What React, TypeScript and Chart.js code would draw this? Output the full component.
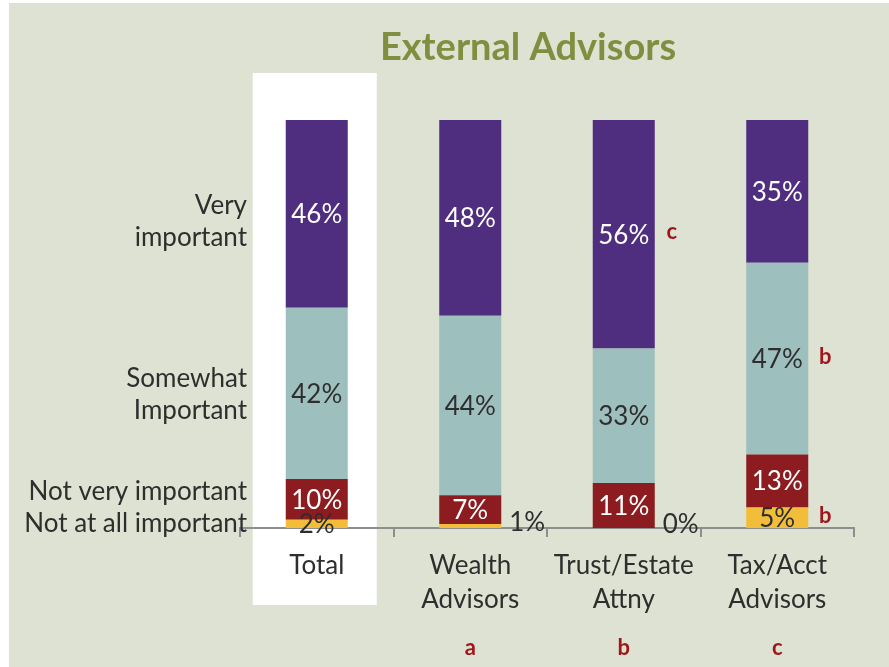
import React, { useEffect, useRef } from 'react';
import { Chart, registerables } from 'chart.js';

Chart.register(...registerables);

// ---------- data ----------
const categories: string[][] = [['Total'], ['Wealth', 'Advisors'], ['Trust/Estate', 'Attny'], ['Tax/Acct', 'Advisors']];
const notAtAllImportant = [2, 1, 0, 5];
const notVeryImportant = [10, 7, 11, 13];
const somewhatImportant = [42, 44, 33, 47];
const veryImportant = [46, 48, 56, 35];
const sigNotAtAll = ['', '', '', 'b'];
const sigNotVery = ['', '', '', ''];
const sigSomewhat = ['', '', '', 'b'];
const sigVery = ['', '', 'c', ''];
const groupLetters = ['', 'a', 'b', 'c'];
const rowLabels: string[][] = [['Very', 'important'], ['Somewhat', 'Important'], ['Not very important'], ['Not at all important']];
const rowLabelValues = [75.2, 32.8, 8.8, 1.0];
const titleText = 'External Advisors';

// ---------- style ----------
const BG = '#DEE2D2';
const TEXT = '#2E2E2E';
const SIG = '#A0161A';
const FONT = 'Lato';
const FS = 26;

const seriesStyles = [
  { label: 'Not at all important', data: notAtAllImportant, color: '#F2BE3A', text: TEXT, sig: sigNotAtAll },
  { label: 'Not very important', data: notVeryImportant, color: '#8C1C20', text: '#FFFFFF', sig: sigNotVery },
  { label: 'Somewhat Important', data: somewhatImportant, color: '#9DBFBE', text: TEXT, sig: sigSomewhat },
  { label: 'Very important', data: veryImportant, color: '#4F2D7F', text: '#FFFFFF', sig: sigVery },
];

const overlayPlugin = {
  id: 'overlay',
  beforeDraw(chart: any) {
    const { ctx } = chart;
    const x = chart.scales.x;
    const cx = x.getPixelForValue(0);
    ctx.save();
    ctx.fillStyle = '#FFFFFF';
    ctx.fillRect(cx - 64, 70, 124, 532);
    ctx.restore();
  },
  afterDatasetsDraw(chart: any) {
    const { ctx } = chart;
    ctx.save();
    seriesStyles.forEach((s, di) => {
      const meta = chart.getDatasetMeta(di);
      meta.data.forEach((bar: any, i: number) => {
        const h = Math.abs(bar.base - bar.y);
        const mid = (bar.y + bar.base) / 2;
        ctx.font = `${FS}px ${FONT}`;
        ctx.textBaseline = 'middle';
        let ly = mid;
        if (h < 6) {
          ctx.textAlign = 'left';
          ctx.fillStyle = TEXT;
          ly = mid - 3;
          ctx.fillText(`${s.data[i]}%`, bar.x + bar.width / 2 + 8, ly);
        } else {
          ctx.textAlign = 'center';
          ctx.fillStyle = s.text;
          ctx.fillText(`${s.data[i]}%`, bar.x, mid + 1);
        }
        if (s.sig[i]) {
          ctx.font = `bold 22px ${FONT}`;
          ctx.fillStyle = SIG;
          ctx.textAlign = 'center';
          ctx.fillText(s.sig[i], bar.x + bar.width / 2 + 17, ly - 2);
        }
      });
    });
    ctx.restore();
  },
  afterDraw(chart: any) {
    const { ctx } = chart;
    const x = chart.scales.x;
    const y = chart.scales.y;
    ctx.save();
    // title
    ctx.font = `bold 38px ${FONT}`;
    ctx.fillStyle = '#7F8F3F';
    ctx.textAlign = 'center';
    ctx.textBaseline = 'middle';
    ctx.fillText(titleText, 519, 45);
    // row labels
    ctx.font = `${FS}px ${FONT}`;
    ctx.fillStyle = TEXT;
    ctx.textAlign = 'right';
    rowLabels.forEach((lines, k) => {
      const cy = y.getPixelForValue(rowLabelValues[k]);
      const lh = 32;
      const start = cy - ((lines.length - 1) * lh) / 2;
      lines.forEach((t, j) => ctx.fillText(t, chart.chartArea.left + 7, start + j * lh));
    });
    // group letters
    ctx.font = `bold 22px ${FONT}`;
    ctx.fillStyle = SIG;
    ctx.textAlign = 'center';
    groupLetters.forEach((g, i) => {
      if (g) ctx.fillText(g, x.getPixelForValue(i), 645);
    });
    ctx.restore();
  },
};

export default function App() {
  const ref = useRef<HTMLCanvasElement | null>(null);
  useEffect(() => {
    if (!ref.current) return;
    const chart = new Chart(ref.current, {
      type: 'bar',
      data: {
        labels: categories as any,
        datasets: seriesStyles.map((s) => ({
          label: s.label,
          data: s.data,
          backgroundColor: s.color,
          borderWidth: 0,
          categoryPercentage: 1,
          barPercentage: 0.404,
        })),
      },
      options: {
        responsive: false,
        animation: false,
        layout: { padding: { left: 231, right: 35, top: 117, bottom: 0 } },
        plugins: { legend: { display: false }, title: { display: false }, tooltip: { enabled: false } },
        scales: {
          x: {
            stacked: true,
            grid: { display: true, drawOnChartArea: false, drawTicks: true, tickLength: 9, color: '#8E8E8E', lineWidth: 2, offset: true },
            border: { display: true, color: '#8E8E8E', width: 2 },
            ticks: { color: TEXT, font: { family: FONT, size: FS, lineHeight: 34 / FS }, padding: 12, maxRotation: 0, autoSkip: false },
            afterFit: (s: any) => { s.height = 139; },
          },
          y: { stacked: true, display: false, min: 0, max: 100 },
        },
      },
      plugins: [overlayPlugin],
    });
    return () => chart.destroy();
  }, []);
  return (
    <div style={{ position: 'fixed', left: 9, top: 3, width: 880, height: 664, background: BG }}>
      <canvas ref={ref} width={880} height={664} style={{ display: 'block' }} />
    </div>
  );
}
